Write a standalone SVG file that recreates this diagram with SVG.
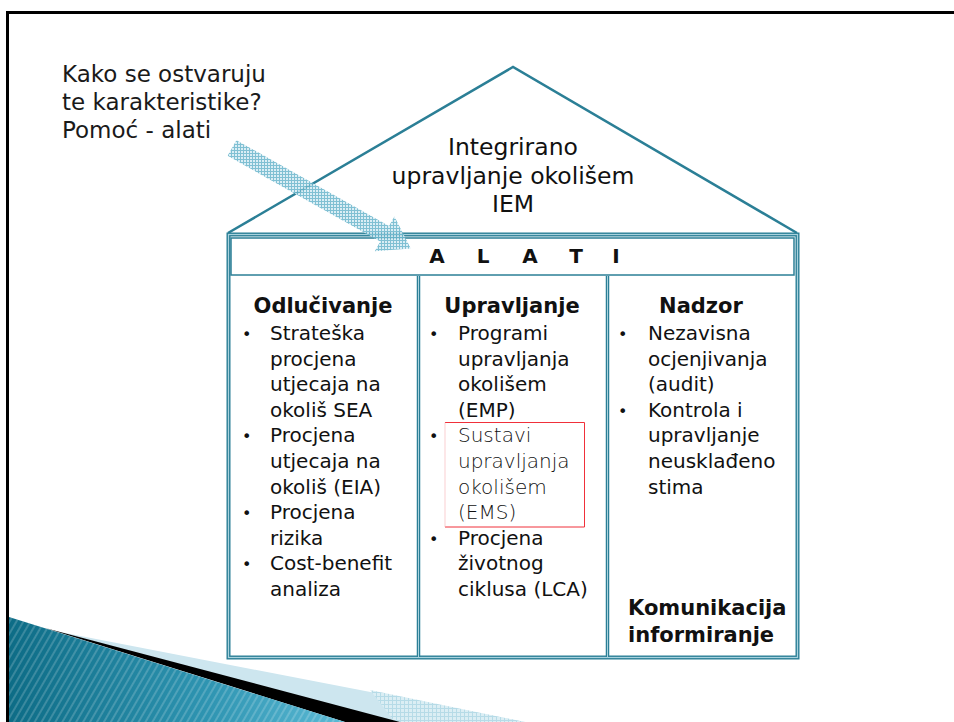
<svg xmlns="http://www.w3.org/2000/svg" width="954" height="722" viewBox="0 0 954 722">
<defs>
<style>
text{font-family:"DejaVu Sans","Verdana",sans-serif;fill:#111}
.t{font-size:20px}
.h{font-size:21px;font-weight:bold}
.b{font-size:16px}
.roof{font-size:23.5px}
.q{font-size:23px;fill:#1a1a1a}
.al{font-size:20px;font-weight:bold}
.thin{font-weight:200;fill:#111}
.teal{stroke:#2b7f96;fill:none}
</style>
<pattern id="hatch" width="3" height="3" patternUnits="userSpaceOnUse">
<rect width="3" height="3" fill="#d3ebf3"/>
<path d="M0 0.5H3M0.5 0V3" stroke="#6ab5cb" stroke-width="1"/>
</pattern>
<pattern id="hatch2" width="4" height="4" patternUnits="userSpaceOnUse">
<rect width="4" height="4" fill="#dbeef4"/>
<path d="M0 0.5H4M0.5 0V4" stroke="#b6dbe7" stroke-width="1"/>
</pattern>
<linearGradient id="tealg" x1="0" y1="0" x2="1" y2="0">
<stop offset="0" stop-color="#0d6c86"/>
<stop offset="0.6" stop-color="#2f95b2"/>
<stop offset="1" stop-color="#5cbad5"/>
</linearGradient>
<pattern id="stripes" width="6" height="6" patternUnits="userSpaceOnUse" patternTransform="rotate(30)">
<rect width="6" height="6" fill="none"/>
<rect width="2" height="6" fill="#ffffff" opacity="0.18"/>
</pattern>
</defs>

<rect width="954" height="722" fill="#ffffff"/>

<g id="frame">
<path d="M7.5 722V12.5H954" fill="none" stroke="#000" stroke-width="3"/>
</g>

<g id="decoration">
<polygon points="60,632 525,722 390,722" fill="#cde6ef"/>
<polygon points="370,690 525,722 395,722" fill="url(#hatch2)"/>
<polygon points="45,628 400,722 345,722" fill="#000"/>
<polygon points="9,617 345,722 9,722" fill="url(#tealg)"/>
<polygon points="9,617 345,722 9,722" fill="url(#stripes)"/>
</g>

<g id="house">
<path class="teal" d="M228 233L513 67L797 233" stroke-width="2.5"/>
<rect x="228.5" y="234.5" width="569" height="423" class="teal" stroke-width="4"/>
<rect x="228.5" y="234.5" width="569" height="423" fill="none" stroke="#a8d2de" stroke-width="1.2"/>
<path class="teal" d="M418.5 276V657M607.5 276V657" stroke-width="3.5"/>
<path d="M418.5 276V657M607.5 276V657" fill="none" stroke="#a8d2de" stroke-width="1"/>
</g>

<g id="roof-text">
<text class="roof" x="513" y="155" text-anchor="middle">Integrirano</text>
<text class="roof" x="513" y="184" text-anchor="middle">upravljanje okolišem</text>
<text class="roof" x="513" y="212" text-anchor="middle">IEM</text>
</g>

<g id="question">
<text class="q" x="62" y="82">Kako se ostvaruju</text>
<text class="q" x="62" y="110">te karakteristike?</text>
<text class="q" x="62" y="138">Pomoć - alati</text>
</g>

<g id="alati">
<rect x="231" y="238" width="563" height="37" fill="#fff" class="teal" stroke-width="1.5"/>
<text class="al" y="263" text-anchor="middle"><tspan x="437">A</tspan><tspan x="483">L</tspan><tspan x="530">A</tspan><tspan x="576">T</tspan><tspan x="616">I</tspan></text>
</g>

<g id="odlucivanje">
<text class="h" x="323" y="313" text-anchor="middle">Odlučivanje</text>
<text class="b" x="242" y="340">•</text>
<text class="t" x="270" y="340">Strateška</text>
<text class="t" x="270" y="366">procjena</text>
<text class="t" x="270" y="391">utjecaja na</text>
<text class="t" x="270" y="417">okoliš SEA</text>
<text class="b" x="242" y="442">•</text>
<text class="t" x="270" y="442">Procjena</text>
<text class="t" x="270" y="468">utjecaja na</text>
<text class="t" x="270" y="494">okoliš (EIA)</text>
<text class="b" x="242" y="519">•</text>
<text class="t" x="270" y="519">Procjena</text>
<text class="t" x="270" y="545">rizika</text>
<text class="b" x="242" y="570">•</text>
<text class="t" x="270" y="570">Cost-benefit</text>
<text class="t" x="270" y="596">analiza</text>
</g>

<g id="upravljanje">
<text class="h" x="512" y="313" text-anchor="middle">Upravljanje</text>
<text class="b" x="429" y="340">•</text>
<text class="t" x="458" y="340">Programi</text>
<text class="t" x="458" y="366">upravljanja</text>
<text class="t" x="458" y="391">okolišem</text>
<text class="t" x="458" y="417">(EMP)</text>
<text class="b" x="429" y="442">•</text>
<text class="t thin" x="458" y="442">Sustavi</text>
<text class="t thin" x="458" y="468">upravljanja</text>
<text class="t thin" x="458" y="494">okolišem</text>
<text class="t thin" x="458" y="519">(EMS)</text>
<path d="M445 422.5H584.5V527H445" fill="none" stroke="#f0303a" stroke-width="1"/>
<path d="M445 422.5V527" fill="none" stroke="#f7b0b4" stroke-width="0.6"/>
<text class="b" x="429" y="545">•</text>
<text class="t" x="458" y="545">Procjena</text>
<text class="t" x="458" y="570">životnog</text>
<text class="t" x="458" y="596">ciklusa (LCA)</text>
</g>

<g id="nadzor">
<text class="h" x="701" y="313" text-anchor="middle">Nadzor</text>
<text class="b" x="618" y="340">•</text>
<text class="t" x="648" y="340">Nezavisna</text>
<text class="t" x="648" y="366">ocjenjivanja</text>
<text class="t" x="648" y="391">(audit)</text>
<text class="b" x="618" y="417">•</text>
<text class="t" x="648" y="417">Kontrola i</text>
<text class="t" x="648" y="442">upravljanje</text>
<text class="t" x="648" y="468">neusklađeno</text>
<text class="t" x="648" y="494">stima</text>
<text class="h" x="628" y="615">Komunikacija</text>
<text class="h" x="628" y="642">informiranje</text>
</g>

<g id="connectors">
<polygon points="236.4,140.2 389,226 394.4,216.4 410.8,248.5 374.8,251.2 380.2,241.6 227.6,155.8" fill="url(#hatch)" opacity="0.85"/>
</g>
</svg>
